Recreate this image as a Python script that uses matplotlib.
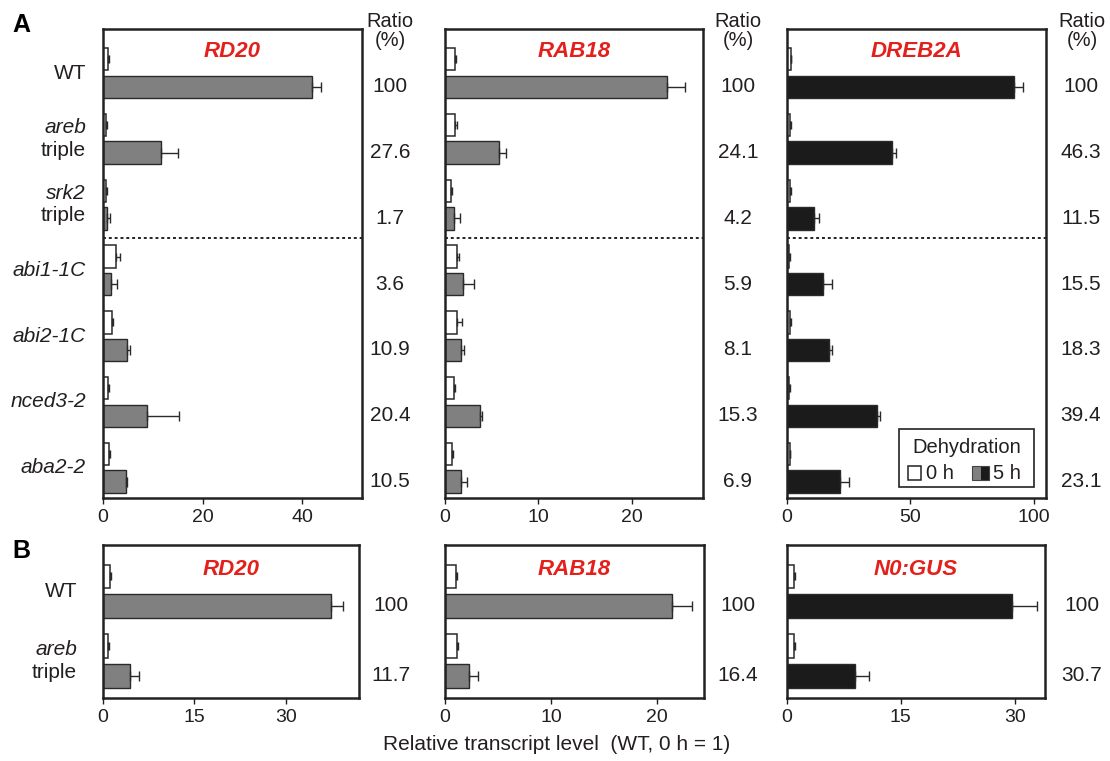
import matplotlib
matplotlib.use('Agg')
import matplotlib.pyplot as plt
import matplotlib.transforms as mtransforms
from matplotlib.patches import Rectangle

plt.rcParams['font.family'] = ['Liberation Sans', 'DejaVu Sans']

TXT = '#231f20'
RED = '#e3201b'
GRAY = '#808080'
BLACK = '#1b1b1b'

# panel A
genotypes_a = ['WT', 'areb triple', 'srk2 triple', 'abi1-1C', 'abi2-1C', 'nced3-2', 'aba2-2']

rd20_a_0h = [1.0, 0.7, 0.6, 2.6, 1.8, 1.0, 1.3]
rd20_a_0h_err = [0.2, 0.15, 0.15, 0.85, 0.2, 0.2, 0.2]
rd20_a_5h = [42.0, 11.6, 0.9, 1.6, 4.9, 8.8, 4.6]
rd20_a_5h_err = [1.8, 3.5, 0.5, 1.3, 0.5, 6.5, 0.3]
rd20_a_ratio = ['100', '27.6', '1.7', '3.6', '10.9', '20.4', '10.5']

rab18_a_0h = [1.05, 1.1, 0.6, 1.3, 1.3, 0.95, 0.8]
rab18_a_0h_err = [0.15, 0.15, 0.1, 0.2, 0.5, 0.1, 0.1]
rab18_a_5h = [23.8, 5.8, 1.0, 1.95, 1.7, 3.7, 1.7]
rab18_a_5h_err = [1.9, 0.7, 0.6, 1.1, 0.3, 0.25, 0.6]
rab18_a_ratio = ['100', '24.1', '4.2', '5.9', '8.1', '15.3', '6.9']

dreb2a_a_0h = [1.5, 1.3, 1.3, 1.0, 1.2, 1.0, 1.1]
dreb2a_a_0h_err = [0.3, 0.3, 0.2, 0.2, 0.3, 0.2, 0.3]
dreb2a_a_5h = [92.0, 42.7, 10.9, 14.5, 17.1, 36.6, 21.5]
dreb2a_a_5h_err = [3.5, 1.3, 2.0, 3.8, 1.1, 1.2, 3.7]
dreb2a_a_ratio = ['100', '46.3', '11.5', '15.5', '18.3', '39.4', '23.1']

# panel B
genotypes_b = ['WT', 'areb triple']

rd20_b_0h = [1.2, 0.9]
rd20_b_0h_err = [0.15, 0.15]
rd20_b_5h = [37.4, 4.4]
rd20_b_5h_err = [1.9, 1.5]
rd20_b_ratio = ['100', '11.7']

rab18_b_0h = [1.0, 1.1]
rab18_b_0h_err = [0.1, 0.15]
rab18_b_5h = [21.4, 2.3]
rab18_b_5h_err = [1.9, 0.8]
rab18_b_ratio = ['100', '16.4']

gus_b_0h = [0.9, 0.9]
gus_b_0h_err = [0.1, 0.1]
gus_b_5h = [29.7, 9.0]
gus_b_5h_err = [3.2, 1.8]
gus_b_ratio = ['100', '30.7']

W, H = 1110, 761
fig = plt.figure(figsize=(W / 100, H / 100), dpi=100)


def px_axes(left, top, right, bottom):
    return fig.add_axes([left / W, 1 - bottom / H, (right - left) / W, (bottom - top) / H])


def draw_panel(ax, title, h0, h0_err, h5, h5_err, color, xmax, ticks, ylim, title_y,
               ratio, ratio_x, dashed=None):
    n = len(h0)
    y = list(range(n))
    y0 = [v - 0.21 for v in y]
    y5 = [v + 0.21 for v in y]
    hgt = 0.34
    ax.barh(y0, h0, height=hgt, color='white', edgecolor='#2a2a2a', linewidth=1.1, zorder=2)
    ax.barh(y5, h5, height=hgt, color=color, edgecolor='#2a2a2a', linewidth=1.0, zorder=2)
    ax.errorbar(h0, y0, xerr=[[0] * n, h0_err], fmt='none', ecolor='#2a2a2a',
                elinewidth=1, capsize=3, capthick=1, zorder=3)
    ax.errorbar(h5, y5, xerr=[[0] * n, h5_err], fmt='none', ecolor='#2a2a2a',
                elinewidth=1, capsize=3.5, capthick=1, zorder=3)
    ax.set_xlim(0, xmax)
    ax.set_ylim(ylim)
    ax.set_xticks(ticks)
    ax.set_yticks([])
    ax.tick_params(axis='x', direction='out', length=4, width=1, labelsize=14,
                   colors=TXT, pad=4)
    for s in ax.spines.values():
        s.set_linewidth(1.8)
        s.set_color('#222222')
    ax.text(0.5, title_y, title, transform=ax.transAxes, ha='center', va='center',
            color=RED, fontsize=16, fontweight='bold', fontstyle='italic')
    if dashed is not None:
        ax.axhline(dashed, color='#222222', linewidth=1.4, linestyle=(0, (1.5, 1.5)), zorder=1)
    tr = mtransforms.blended_transform_factory(fig.transFigure, ax.transData)
    for yy, r in zip(y5, ratio):
        fig.text(ratio_x / W, yy, r, transform=tr, ha='center', va='center',
                 fontsize=15, color=TXT)


def draw_genotypes(ax, names, right_px, dy):
    tr = mtransforms.blended_transform_factory(fig.transFigure, ax.transData)
    for i, name in enumerate(names):
        parts = name.split(' ')
        if len(parts) == 1:
            style = 'normal' if name == 'WT' else 'italic'
            fig.text(right_px / W, i, name, transform=tr, ha='right', va='center',
                     fontsize=15, fontstyle=style, color=TXT)
        else:
            fig.text(right_px / W, i - dy, parts[0], transform=tr, ha='right', va='center',
                     fontsize=15, fontstyle='italic', color=TXT)
            fig.text(right_px / W, i + dy, parts[1], transform=tr, ha='right', va='center',
                     fontsize=15, color=TXT)


ylim_a = (6.46, -0.67)
ylim_b = (1.53, -0.66)

ax1 = px_axes(103, 29, 362, 498)
draw_panel(ax1, 'RD20', rd20_a_0h, rd20_a_0h_err, rd20_a_5h, rd20_a_5h_err, GRAY,
           52, [0, 20, 40], ylim_a, 0.951, rd20_a_ratio, 390, dashed=2.5)
ax2 = px_axes(445, 29, 703, 498)
draw_panel(ax2, 'RAB18', rab18_a_0h, rab18_a_0h_err, rab18_a_5h, rab18_a_5h_err, GRAY,
           27.6, [0, 10, 20], ylim_a, 0.951, rab18_a_ratio, 738, dashed=2.5)
ax3 = px_axes(787, 29, 1046, 498)
draw_panel(ax3, 'DREB2A', dreb2a_a_0h, dreb2a_a_0h_err, dreb2a_a_5h, dreb2a_a_5h_err, BLACK,
           105, [0, 50, 100], ylim_a, 0.951, dreb2a_a_ratio, 1081, dashed=2.5)
draw_genotypes(ax1, genotypes_a, 86, 0.17)

for x in [390, 738, 1082]:
    fig.text(x / W, 1 - 31 / H, 'Ratio\n(%)', ha='center', va='center', fontsize=14.5,
             color=TXT, linespacing=1.05)

# legend box inside DREB2A panel
ax3.add_patch(Rectangle((0.432, 0.023), 0.522, 0.124, transform=ax3.transAxes,
                        facecolor='white', edgecolor='#222222', linewidth=1.2, zorder=4))
ax3.text(0.693, 0.108, 'Dehydration', transform=ax3.transAxes, ha='center', va='center',
         fontsize=14.5, color=TXT, zorder=5)
ax3.add_patch(Rectangle((0.467, 0.038), 0.052, 0.030, transform=ax3.transAxes,
                        facecolor='white', edgecolor='#222222', linewidth=1.1, zorder=5))
ax3.text(0.535, 0.053, '0 h', transform=ax3.transAxes, ha='left', va='center',
         fontsize=14.5, color=TXT, zorder=5)
ax3.add_patch(Rectangle((0.715, 0.038), 0.033, 0.030, transform=ax3.transAxes,
                        facecolor=GRAY, edgecolor='none', zorder=5))
ax3.add_patch(Rectangle((0.748, 0.038), 0.033, 0.030, transform=ax3.transAxes,
                        facecolor=BLACK, edgecolor='none', zorder=5))
ax3.add_patch(Rectangle((0.715, 0.038), 0.066, 0.030, transform=ax3.transAxes,
                        facecolor='none', edgecolor='#444444', linewidth=0.8, zorder=6))
ax3.text(0.797, 0.053, '5 h', transform=ax3.transAxes, ha='left', va='center',
         fontsize=14.5, color=TXT, zorder=5)

bx1 = px_axes(103, 545, 359, 698)
draw_panel(bx1, 'RD20', rd20_b_0h, rd20_b_0h_err, rd20_b_5h, rd20_b_5h_err, GRAY,
           42, [0, 15, 30], ylim_b, 0.84, rd20_b_ratio, 391)
bx2 = px_axes(445, 545, 704, 698)
draw_panel(bx2, 'RAB18', rab18_b_0h, rab18_b_0h_err, rab18_b_5h, rab18_b_5h_err, GRAY,
           24.4, [0, 10, 20], ylim_b, 0.84, rab18_b_ratio, 738)
bx3 = px_axes(787, 545, 1045, 698)
draw_panel(bx3, 'N0:GUS', gus_b_0h, gus_b_0h_err, gus_b_5h, gus_b_5h_err, BLACK,
           34, [0, 15, 30], ylim_b, 0.84, gus_b_ratio, 1082)
draw_genotypes(bx1, genotypes_b, 77, 0.17)

fig.text(12 / W, 1 - 25 / H, 'A', ha='left', va='center', fontsize=18, fontweight='bold', color='black')
fig.text(12 / W, 1 - 551 / H, 'B', ha='left', va='center', fontsize=18, fontweight='bold', color='black')
fig.text(557 / W, 1 - 745 / H, 'Relative transcript level  (WT, 0 h = 1)', ha='center', va='center',
         fontsize=15, color=TXT)

fig.savefig('out.png', dpi=100)
